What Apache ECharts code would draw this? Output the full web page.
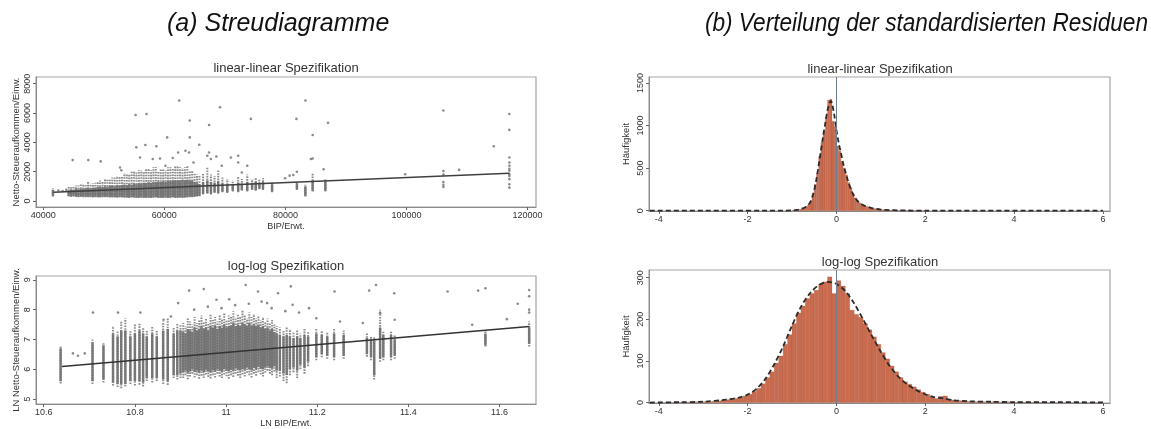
<!DOCTYPE html>
<html><head><meta charset="utf-8">
<script src="https://cdn.jsdelivr.net/npm/echarts@6/dist/echarts.min.js"></script>
<style>html,body{margin:0;padding:0;background:#fff}#c{width:1151px;height:429px}</style>
</head><body><div id="c"></div>
<script>
// ---------- tick labels ----------
const linXTicks = [40000, 60000, 80000, 100000, 120000];
const linYTicks = [0, 2000, 4000, 6000, 8000];
const logXTicks = [10.6, 10.8, 11, 11.2, 11.4, 11.6];
const logYTicks = [5, 6, 7, 8, 9];
const resXTicks = [-4, -2, 0, 2, 4, 6];
const linResYTicks = [0, 500, 1000, 1500];
const logResYTicks = [0, 100, 200, 300];

// ---------- (a) linear-linear scatter: vertical point columns [x, low, denseLow, denseHigh, high] ----------
const linStrips = [
 [41600,300,350,750,880],[44200,300,350,700,950],[44600,280,330,800,1000],[45000,300,350,750,950],
 [45400,270,320,820,1050],[45800,250,300,800,1050],[46200,280,320,850,1150],[46600,260,310,820,1100],
 [47000,250,300,880,1100],[47400,260,300,900,1300],[47800,250,300,870,1200],[48200,240,290,900,1200],
 [48600,250,300,920,1250],[49000,240,280,950,1300],[49400,230,280,980,1400],[49800,260,300,950,1350],
 [50200,250,290,1000,1500],[50600,250,290,980,1450],[51000,240,280,1020,1450],[51400,240,280,1050,1600],
 [51800,230,270,1000,1600],[52200,220,270,1080,1700],[52600,230,270,1050,1650],[53000,240,280,1100,1650],
 [53400,220,260,1120,1900],[53800,220,260,1080,1800],[54200,200,250,1150,1800],[54600,230,270,1120,2000],
 [55000,220,260,1180,2000],[55400,200,250,1150,1950],[55800,210,250,1200,2100],[56200,220,260,1180,2100],
 [56600,200,250,1250,2000],[57000,210,250,1220,2200],[57400,210,250,1280,2200],[57800,200,240,1250,2100],
 [58200,220,260,1300,2300],[58600,230,270,1280,2300],[59000,210,250,1320,2000],[59400,200,250,1300,2200],
 [59800,200,240,1350,2200],[60200,220,260,1320,2100],[60600,200,240,1380,2300],[61000,210,250,1350,2300],
 [61400,230,270,1400,2200],[61800,210,250,1380,2400],[62200,210,250,1420,2400],[62600,220,260,1400,2300],
 [63000,200,250,1450,2250],[63400,220,260,1420,2300],[63800,230,270,1450,2400],[64200,250,290,1400,2100],
 [64600,260,300,1380,2100],[65000,280,320,1300,1900],[65400,300,340,1250,1800],[65800,320,360,1150,1700],
 [66400,450,500,1300,1900],[67100,500,550,1400,2300],[67700,450,500,1300,1800],[68300,550,600,1250,1700],
 [68900,500,560,1350,2100],[69600,600,650,1200,1600],[70400,550,600,1150,1500],[71300,650,700,1150,1400],
 [72200,600,650,1250,1700],[72800,700,750,1200,1500],[73700,650,700,1300,1800],[74500,750,800,1250,1500],
 [75100,700,750,1300,1600],[75700,800,850,1250,1450],[76300,750,800,1300,1550],[77800,600,650,1150,1300],
 [81900,750,800,1200,1320],[83300,300,350,1000,1100],[84500,640,700,1400,1890],[86600,640,700,1350,1550]
];
const linPoints = [
 [42500,720],[43200,680],[43800,760],
 [44860,2790],[47440,2790],[49490,2700],[55370,3660],[56870,3820],[55250,5870],[57060,5940],[58680,3730],
 [60480,4340],[62460,6860],[64200,5490],[64200,4340],[65770,3840],[67390,5190],[69190,6400],[67390,3310],
 [74300,5600],[81820,5600],[83310,6860],[84510,4500],[87040,5330],[114430,3730],
 [52680,2290],[52900,2100],[55990,2970],[58090,2860],[59290,2900],[60180,2400],[61390,2930],[62280,3310],
 [63490,3430],[64090,3310],[64820,2630],[67100,3090],[67690,2860],[68600,3040],[69490,2400],[70990,2970],
 [72200,3090],[72200,2630],[72800,1940],[73700,2400],[84210,2860],[84510,2900],[86320,2170],
 [79950,1550],[80700,1730],[81300,1770],[81900,2000],[99800,1820],
 [106100,6170],[106100,2050],[106100,1800],[106100,1300],[106100,1100],[106100,950],[108700,2120],
 [117000,5940],[117000,4850],[117000,2970],[117000,2630],[117000,2400],[117000,2200],[117000,2060],
 [117000,1830],[117000,1700],[117000,1490],[117000,1140],[117000,910]
];
const linFit = [[41700, 600], [117000, 1900]];

// ---------- (a) log-log scatter: [x, low, denseLow, denseHigh, high] ----------
const logStrips = [
 [10.637,5.52,5.6,6.7,6.78],[10.707,5.5,5.6,6.9,7.0],[10.731,5.55,5.65,6.8,6.9],[10.752,5.45,5.55,7.2,7.45],
 [10.762,5.4,5.5,7.1,7.3],[10.770,5.36,5.5,7.3,7.6],[10.779,5.42,5.5,7.3,7.7],[10.790,5.5,5.6,7.1,7.3],
 [10.800,5.45,5.6,7.2,7.5],[10.810,5.48,5.6,7.3,7.55],[10.818,5.42,5.55,7.2,7.4],[10.826,5.6,5.7,7.1,7.3],
 [10.838,5.55,5.7,7.2,7.45],[10.848,5.6,5.7,7.1,7.3],[10.862,5.5,5.65,7.3,7.6],[10.872,5.47,5.6,7.35,7.7],
 [10.885,5.7,5.8,7.2,7.4],[10.893,5.65,5.8,7.3,7.55],[10.900,5.7,5.85,7.3,7.5],
 [10.906,5.70,5.90,7.25,7.55],[10.911,5.80,5.95,7.20,7.45],[10.916,5.66,5.88,7.35,7.70],[10.921,5.75,5.92,7.30,7.60],
 [10.926,5.85,6.00,7.25,7.50],[10.931,5.72,5.90,7.40,7.75],[10.936,5.80,5.95,7.30,7.55],[10.941,5.68,5.88,7.35,7.65],
 [10.946,5.78,5.95,7.45,7.80],[10.951,5.70,5.90,7.35,7.60],[10.956,5.82,5.98,7.40,7.70],[10.961,5.74,5.92,7.30,7.55],
 [10.966,5.69,5.90,7.45,7.85],[10.971,5.80,5.96,7.40,7.65],[10.976,5.72,5.92,7.45,7.75],[10.981,5.85,6.00,7.35,7.60],
 [10.986,5.75,5.95,7.45,7.80],[10.991,5.70,5.92,7.40,7.70],[10.996,5.82,6.00,7.50,7.90],[11.001,5.76,5.95,7.40,7.65],
 [11.006,5.68,5.92,7.45,7.80],[11.011,5.80,5.98,7.45,7.75],[11.016,5.74,5.95,7.55,7.95],[11.021,5.85,6.02,7.45,7.70],
 [11.026,5.78,5.98,7.50,7.85],[11.031,5.70,5.95,7.45,7.75],[11.036,5.82,6.00,7.55,8.00],[11.041,5.75,5.98,7.50,7.80],
 [11.046,5.88,6.05,7.45,7.70],[11.051,5.80,6.00,7.55,7.90],[11.056,5.72,5.96,7.45,7.75],[11.061,5.85,6.05,7.50,7.85],
 [11.066,5.78,6.00,7.45,7.70],[11.071,5.90,6.08,7.50,7.80],[11.076,5.82,6.02,7.40,7.65],[11.081,5.75,6.00,7.45,7.75],
 [11.086,5.88,6.05,7.35,7.60],[11.091,5.95,6.10,7.40,7.70],[11.096,5.85,6.05,7.30,7.55],[11.101,5.80,6.02,7.35,7.65],
 [11.106,5.92,6.10,7.25,7.50],[11.111,5.70,5.95,7.20,7.45],[11.118,5.75,5.95,7.15,7.40],[11.126,5.60,5.85,7.10,7.30],
 [11.133,5.53,5.80,7.15,7.40],[11.140,5.80,6.00,7.10,7.35],[11.148,5.90,6.05,7.05,7.25],[11.156,5.70,5.95,7.10,7.30],
 [11.163,6.00,6.15,7.05,7.20],[11.172,5.85,6.05,7.15,7.35],[11.180,6.10,6.25,7.10,7.25],[11.198,6.30,6.40,7.20,7.38],
 [11.210,6.40,6.50,7.15,7.30],[11.222,6.35,6.45,7.10,7.25],[11.237,6.30,6.40,7.20,7.35],[11.258,6.35,6.45,7.15,7.30],
 [11.309,6.42,6.50,7.05,7.20],[11.318,6.30,6.40,7.00,7.10],[11.325,5.65,5.80,6.95,7.10],[11.338,6.25,6.35,7.40,8.00],
 [11.345,6.30,6.40,7.15,7.30],[11.362,6.30,6.40,7.15,7.30],[11.370,6.35,6.45,7.00,7.15],[11.569,6.76,6.80,7.20,7.32],
 [11.665,6.76,6.85,7.40,7.60]
];
const logPoints = [
 [10.664,6.53],[10.69,6.53],[10.675,6.45],[10.708,7.9],[10.763,7.9],[10.812,7.9],[10.863,7.66],[10.879,7.77],
 [10.895,8.22],[10.919,8.64],[10.951,8.69],[10.979,8.33],[11.007,8.35],[11.043,8.83],[11.07,8.61],[11.078,8.27],
 [11.09,8.22],[11.114,8.55],[11.142,8.78],[11.146,8.16],[11.182,8.05],[11.198,7.71],[11.238,8.61],[11.314,8.64],
 [11.329,8.83],[11.369,8.55],[11.338,7.88],[11.37,7.66],[11.486,8.61],[11.553,8.64],[11.569,8.72],[11.54,7.49],
 [11.616,7.68],[11.64,8.2],[11.665,8.66],[11.665,8.45],[11.665,8.0],[11.665,7.9],
 [10.93,8.0],[10.96,8.1],[10.99,8.05],[11.02,8.15],[11.05,8.2],[11.1,8.05],[11.13,7.95],[11.16,7.9],[11.25,7.6],[11.3,7.55]
];
const logFit = [[10.64, 6.09], [11.665, 7.43]];

// ---------- (b) residual histograms ----------
const linResBinStart = -1.0, linResBinWidth = 0.05;
const linResCounts = [5,7,10,15,22,35,50,70,110,200,310,440,640,800,930,1100,1300,1310,1050,990,
 760,700,580,500,420,330,270,200,150,118,92,75,60,50,42,35,28,23,19,15,12,10,8,7,6,5,4,3,3,2,2,2,1,1,1,1,1,1,1,1];
const linResDensity = [[-4.2,0],[-1.2,0],[-1.0,3],[-0.9,8],[-0.8,20],[-0.7,40],[-0.6,90],[-0.55,150],[-0.5,240],
 [-0.45,370],[-0.4,530],[-0.35,700],[-0.3,870],[-0.25,1030],[-0.2,1180],[-0.15,1270],[-0.12,1290],[-0.1,1260],
 [-0.05,1130],[0,950],[0.05,800],[0.1,680],[0.15,560],[0.2,460],[0.25,370],[0.3,290],[0.35,220],[0.4,170],
 [0.45,130],[0.5,100],[0.6,65],[0.7,45],[0.8,30],[0.9,20],[1.0,13],[1.2,7],[1.4,4],[1.6,2],[2.0,1],[6.0,0]];

const logResBinStart = -4.0, logResBinWidth = 0.1;
const logResCounts = [0,0,1,0,1,1,1,1,2,1,2,2,3,4,6,7,8,10,12,16,20,27,34,45,60,74,95,112,140,163,
 190,215,232,250,262,270,285,290,302,262,293,280,262,222,212,205,190,175,158,140,120,105,88,74,60,50,44,38,31,25,
 20,14,10,15,16,8,6,5,4,3,3,2,2,2,1,2,1,1,2,1,1,1,1,0,1,1,1,0,1,0,0,0,0,0,0,0,0,0,0,1];
const logResDensity = [[-4.2,0],[-3.5,1],[-3,2],[-2.5,7],[-2.2,12],[-2,19],[-1.8,33],[-1.6,57],[-1.4,92],
 [-1.2,135],[-1.0,185],[-0.8,230],[-0.6,262],[-0.4,282],[-0.2,290],[0,285],[0.2,268],[0.4,238],[0.6,200],
 [0.8,160],[1.0,122],[1.2,88],[1.4,62],[1.6,43],[1.8,30],[2.0,20],[2.2,13],[2.4,10],[2.6,6],[3.0,3],[3.5,2],
 [4,1],[5,1],[6,0.5]];

// ---------- rendering ----------
const FONT = 'Liberation Sans, Arial, sans-serif';
const BAR = '#c96b4e';
const GRAY = '#6e6e6e';

function binsToData(start, width, counts) {
  return counts.map((c, i) => [start + i * width, start + (i + 1) * width, c]);
}
function stripItem(params, api) {
  const x = api.value(0);
  const a = api.coord([x, api.value(1)]);
  const b = api.coord([x, api.value(2)]);
  const c = api.coord([x, api.value(3)]);
  const d = api.coord([x, api.value(4)]);
  return { type: 'group', children: [
    { type: 'line', shape: { x1: a[0], y1: a[1], x2: d[0], y2: d[1] },
      style: { stroke: 'rgba(110,110,110,0.8)', lineWidth: 2, lineDash: [1.6, 1.1] } },
    { type: 'line', shape: { x1: b[0], y1: b[1], x2: c[0], y2: c[1] },
      style: { stroke: 'rgba(112,112,112,0.92)', lineWidth: 2.5 } }
  ] };
}
function histItem(params, api) {
  const p0 = api.coord([api.value(0), api.value(2)]);
  const p1 = api.coord([api.value(1), 0]);
  return { type: 'rect', shape: { x: p0[0], y: p0[1], width: p1[0] - p0[0], height: p1[1] - p0[1] },
    style: { fill: BAR, stroke: 'rgba(150,70,45,0.45)', lineWidth: 0.4 } };
}
function fmtNum(v) { return String(+(+v).toFixed(2)); }

function xAx(gi, min, max, ticks, name) {
  return { type: 'value', gridIndex: gi, min, max, name, nameLocation: 'middle', nameGap: 15,
    nameTextStyle: { fontSize: 9, color: '#333', fontFamily: FONT },
    axisLine: { show: true, onZero: false, lineStyle: { color: '#8a8a8a', width: 1 } },
    axisTick: { show: true, customValues: ticks, length: 3, lineStyle: { color: '#666' } },
    axisLabel: { customValues: ticks, fontSize: 9, color: '#333', margin: 4, fontFamily: FONT, formatter: fmtNum },
    splitLine: { show: false } };
}
function yAx(gi, min, max, ticks, name, gap) {
  return { type: 'value', gridIndex: gi, min, max, name, nameLocation: 'middle', nameGap: gap, nameRotate: 90,
    nameTextStyle: { fontSize: 9.5, color: '#333', fontFamily: FONT },
    axisLine: { show: true, onZero: false, lineStyle: { color: '#8a8a8a', width: 1 } },
    axisTick: { show: true, customValues: ticks, length: 3, lineStyle: { color: '#666' } },
    axisLabel: { customValues: ticks, fontSize: 9, color: '#333', margin: 4, rotate: 90, fontFamily: FONT, formatter: fmtNum },
    splitLine: { show: false } };
}
const gridStyle = { show: true, borderColor: '#a5a5a5', borderWidth: 1.2, backgroundColor: 'transparent', containLabel: false };

const chart = echarts.init(document.getElementById('c'), null, { renderer: 'canvas' });
chart.setOption({
  animation: false,
  backgroundColor: '#fff',
  textStyle: { fontFamily: FONT },
  grid: [
    Object.assign({ left: 36, top: 77, width: 500, height: 130 }, gridStyle),
    Object.assign({ left: 36, top: 276, width: 500, height: 128 }, gridStyle),
    Object.assign({ left: 649, top: 77, width: 461, height: 134 }, gridStyle),
    Object.assign({ left: 649, top: 270, width: 461, height: 133 }, gridStyle)
  ],
  xAxis: [
    xAx(0, 38800, 121400, linXTicks, 'BIP/Erwt.'),
    xAx(1, 10.583, 11.68, logXTicks, 'LN BIP/Erwt.'),
    xAx(2, -4.22, 6.16, resXTicks, ''),
    xAx(3, -4.22, 6.16, resXTicks, '')
  ],
  yAxis: [
    yAx(0, -410, 8460, linYTicks, 'Netto-Steueraufkommen/Einw.', 15),
    yAx(1, 4.83, 9.13, logYTicks, 'LN Netto-Steueraufkommen/Einw.', 15),
    yAx(2, -4, 1571, linResYTicks, 'Häufigkeit', 18),
    yAx(3, -1, 318.5, logResYTicks, 'Häufigkeit', 18)
  ],
  graphic: [
    { type: 'text', x: 167, y: 12, style: { text: '(a) Streudiagramme', font: 'italic 25px ' + FONT, fill: '#111', textAlign: 'left', textVerticalAlign: 'top' } },
    { type: 'text', x: 1148, y: 12, scaleX: 0.905, style: { text: '(b) Verteilung der standardisierten Residuen', font: 'italic 25px ' + FONT, fill: '#111', textAlign: 'right', textVerticalAlign: 'top' } },
    { type: 'text', x: 286, y: 68, style: { text: 'linear-linear Spezifikation', font: '13px ' + FONT, fill: '#333', textAlign: 'center', textVerticalAlign: 'middle' } },
    { type: 'text', x: 286, y: 266, style: { text: 'log-log Spezifikation', font: '13px ' + FONT, fill: '#333', textAlign: 'center', textVerticalAlign: 'middle' } },
    { type: 'text', x: 880, y: 69, style: { text: 'linear-linear Spezifikation', font: '13px ' + FONT, fill: '#333', textAlign: 'center', textVerticalAlign: 'middle' } },
    { type: 'text', x: 880, y: 262, style: { text: 'log-log Spezifikation', font: '13px ' + FONT, fill: '#333', textAlign: 'center', textVerticalAlign: 'middle' } }
  ],
  series: [
    { type: 'custom', xAxisIndex: 0, yAxisIndex: 0, renderItem: stripItem, data: linStrips, encode: { x: 0, y: [1, 4] }, z: 2, silent: true },
    { type: 'scatter', xAxisIndex: 0, yAxisIndex: 0, data: linPoints, symbol: 'circle', symbolSize: 2.6, itemStyle: { color: GRAY }, z: 3, silent: true },
    { type: 'line', xAxisIndex: 0, yAxisIndex: 0, data: linFit, showSymbol: false, symbol: 'none', lineStyle: { color: '#3f3f3f', width: 1.5 }, z: 4, silent: true },

    { type: 'custom', xAxisIndex: 1, yAxisIndex: 1, renderItem: stripItem, data: logStrips, encode: { x: 0, y: [1, 4] }, z: 2, silent: true },
    { type: 'scatter', xAxisIndex: 1, yAxisIndex: 1, data: logPoints, symbol: 'circle', symbolSize: 2.6, itemStyle: { color: GRAY }, z: 3, silent: true },
    { type: 'line', xAxisIndex: 1, yAxisIndex: 1, data: logFit, showSymbol: false, symbol: 'none', lineStyle: { color: '#333', width: 1.5 }, z: 4, silent: true },

    { type: 'line', xAxisIndex: 2, yAxisIndex: 2, data: [], z: 1, silent: true,
      markLine: { symbol: 'none', silent: true, label: { show: false }, lineStyle: { color: '#6f7f8f', width: 1, type: 'solid' }, data: [{ xAxis: 0 }] } },
    { type: 'custom', xAxisIndex: 2, yAxisIndex: 2, renderItem: histItem, data: binsToData(linResBinStart, linResBinWidth, linResCounts), encode: { x: [0, 1], y: 2 }, z: 2, silent: true },
    { type: 'line', xAxisIndex: 2, yAxisIndex: 2, data: linResDensity, smooth: 0.3, showSymbol: false, symbol: 'none', lineStyle: { color: '#2b2b2b', width: 1.8, type: [5, 3] }, z: 3, silent: true },

    { type: 'line', xAxisIndex: 3, yAxisIndex: 3, data: [], z: 1, silent: true,
      markLine: { symbol: 'none', silent: true, label: { show: false }, lineStyle: { color: '#6f7f8f', width: 1, type: 'solid' }, data: [{ xAxis: 0 }] } },
    { type: 'custom', xAxisIndex: 3, yAxisIndex: 3, renderItem: histItem, data: binsToData(logResBinStart, logResBinWidth, logResCounts), encode: { x: [0, 1], y: 2 }, z: 2, silent: true },
    { type: 'line', xAxisIndex: 3, yAxisIndex: 3, data: logResDensity, smooth: 0.3, showSymbol: false, symbol: 'none', lineStyle: { color: '#2b2b2b', width: 1.8, type: [5, 3] }, z: 3, silent: true }
  ]
});
</script>
</body></html>
